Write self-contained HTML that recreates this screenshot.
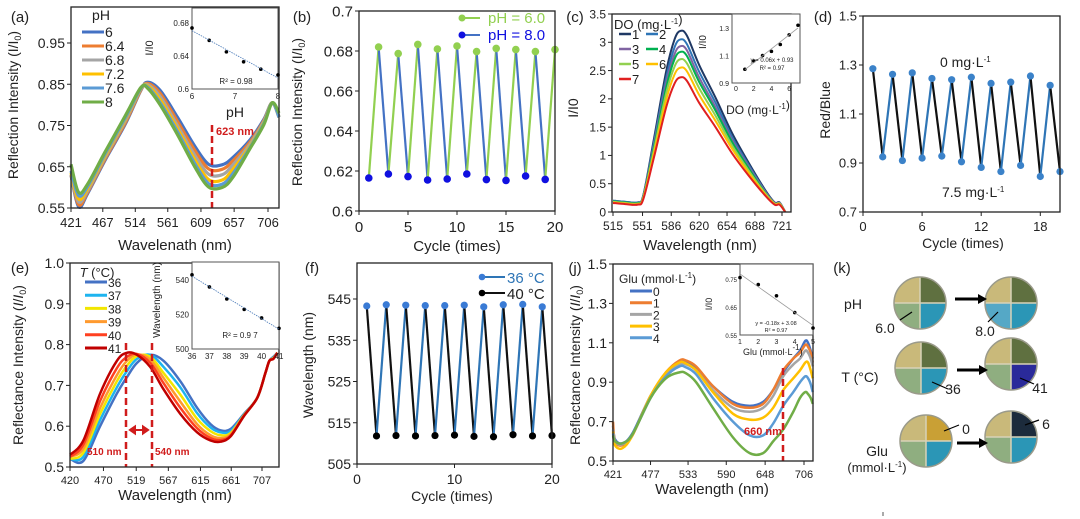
<!DOCTYPE html>
<html><head><meta charset="utf-8"><style>
html,body{margin:0;padding:0;background:#fff;}
svg{display:block;font-family:"Liberation Sans",Arial,sans-serif;}
</style></head><body>
<svg id="fig" width="1080" height="519" viewBox="0 0 1080 519" xmlns="http://www.w3.org/2000/svg">
<rect width="1080" height="519" fill="#fff"/>
</svg>
<script>
// ---------- data ----------
const aWl=[421,432,445,470,500,522,532,550,575,600,620,640,655,680,700,712,722];
const aLabels=['6','6.4','6.8','7.2','7.6','8'];
const aPH6=[0.63,0.553,0.585,0.665,0.755,0.835,0.855,0.835,0.77,0.70,0.656,0.655,0.672,0.715,0.765,0.805,0.77];
const aPH64=[0.63,0.558,0.588,0.668,0.758,0.836,0.852,0.828,0.76,0.69,0.645,0.644,0.664,0.71,0.762,0.805,0.77];
const aPH68=[0.63,0.565,0.592,0.672,0.763,0.838,0.849,0.82,0.75,0.678,0.632,0.631,0.654,0.705,0.76,0.805,0.77];
const aPH72=[0.635,0.572,0.597,0.676,0.767,0.839,0.846,0.812,0.742,0.667,0.619,0.618,0.643,0.70,0.757,0.805,0.77];
const aPH76=[0.64,0.58,0.602,0.68,0.77,0.84,0.843,0.805,0.735,0.658,0.609,0.608,0.633,0.697,0.755,0.805,0.77];
const aPH8=[0.656,0.588,0.608,0.685,0.775,0.842,0.84,0.80,0.728,0.65,0.601,0.60,0.624,0.694,0.752,0.805,0.78];
const aInsetX=[6,6.4,6.8,7.2,7.6,8];
const aInsetY=[0.674,0.659,0.645,0.633,0.624,0.617];

const bCycles=[1,2,3,4,5,6,7,8,9,10,11,12,13,14,15,16,17,18,19,20];
const bValues=[0.6165,0.682,0.6185,0.6787,0.6172,0.6833,0.6155,0.681,0.616,0.6825,0.6185,0.6797,0.6157,0.6813,0.6153,0.6807,0.6175,0.6797,0.6158,0.6807];

const cWl=[515,530,545,552,565,580,590,597,605,620,640,660,680,700,712,718,725];
const cLabels=['1','2','3','4','5','6','7'];
const cDO1=[0.2,0.18,0.17,0.3,1.3,2.5,3.05,3.2,3.12,2.6,2.02,1.4,0.88,0.4,0.17,0.17,0];
const cDO2=[0.2,0.18,0.17,0.29,1.24,2.38,2.91,3.05,2.97,2.48,1.93,1.33,0.84,0.38,0.16,0.16,0];
const cDO3=[0.19,0.17,0.16,0.28,1.19,2.29,2.79,2.93,2.86,2.38,1.85,1.28,0.81,0.37,0.16,0.16,0];
const cDO4=[0.19,0.17,0.16,0.27,1.15,2.21,2.70,2.83,2.76,2.30,1.79,1.24,0.78,0.35,0.15,0.15,0];
const cDO5=[0.18,0.16,0.15,0.26,1.10,2.11,2.57,2.7,2.63,2.19,1.70,1.18,0.74,0.34,0.15,0.15,0];
const cDO6=[0.17,0.15,0.14,0.25,1.04,1.99,2.43,2.55,2.49,2.07,1.61,1.12,0.70,0.32,0.14,0.14,0];
const cDO7=[0.16,0.14,0.13,0.23,0.97,1.86,2.27,2.38,2.32,1.93,1.50,1.04,0.65,0.30,0.13,0.13,0];
const cInsetX=[1,2,3,4,5,6,7];
const cInsetY=[1.0,1.06,1.1,1.13,1.18,1.25,1.32];

const dCycles=[1,2,3,4,5,6,7,8,9,10,11,12,13,14,15,16,17,18,19,20];
const dValues=[1.285,0.925,1.262,0.91,1.268,0.92,1.245,0.928,1.24,0.905,1.25,0.882,1.225,0.865,1.23,0.89,1.255,0.845,1.217,0.865];

const eWl=[420,440,465,490,505,520,540,560,585,610,630,645,660,680,700,712,718,724,730];
const eLabels=['36','37','38','39','40','41'];
const eT36=[0.52,0.515,0.6,0.68,0.72,0.755,0.775,0.76,0.71,0.645,0.605,0.59,0.593,0.63,0.67,0.73,0.76,0.77,0.78];
const eT37=[0.52,0.525,0.615,0.695,0.735,0.765,0.775,0.745,0.695,0.632,0.597,0.585,0.588,0.628,0.67,0.73,0.76,0.768,0.78];
const eT38=[0.52,0.535,0.63,0.71,0.748,0.772,0.77,0.73,0.677,0.618,0.588,0.578,0.583,0.627,0.67,0.73,0.76,0.767,0.78];
const eT39=[0.525,0.545,0.645,0.725,0.76,0.776,0.763,0.718,0.66,0.605,0.578,0.571,0.58,0.626,0.67,0.73,0.76,0.766,0.78];
const eT40=[0.525,0.555,0.662,0.742,0.77,0.777,0.755,0.705,0.645,0.595,0.571,0.566,0.577,0.625,0.67,0.73,0.76,0.765,0.78];
const eT41=[0.53,0.565,0.68,0.76,0.78,0.775,0.745,0.69,0.63,0.585,0.565,0.562,0.575,0.625,0.67,0.73,0.76,0.765,0.78];
const eInsetX=[36,37,38,39,40,41];
const eInsetY=[543,536,529,523,518,512];

const fCycles=[1,2,3,4,5,6,7,8,9,10,11,12,13,14,15,16,17,18,19,20];
const fValues=[543.3,511.8,543.6,511.9,543.5,511.8,543.4,511.9,543.4,512,543.5,511.7,543.1,511.6,543.6,512.1,543.7,511.8,543.1,511.9];

const jWl=[421,424,435,450,477,500,520,530,545,570,600,625,645,660,675,690,700,708,712,716,719];
const jLabels=['0','1','2','3','4','5'];
const jG0=[0.68,0.61,0.59,0.64,0.83,0.94,1.0,1.0,0.97,0.88,0.8,0.78,0.8,0.86,0.95,1.02,1.06,1.11,1.1,1.06,1.02];
const jG1=[0.7,0.6,0.58,0.63,0.83,0.95,1.01,1.01,0.98,0.88,0.79,0.77,0.79,0.86,0.96,1.02,1.05,1.09,1.08,1.05,1.0];
const jG2=[0.66,0.6,0.585,0.635,0.82,0.94,0.99,0.99,0.96,0.86,0.77,0.75,0.77,0.83,0.93,0.99,1.02,1.06,1.05,1.02,0.98];
const jG3=[0.65,0.58,0.565,0.63,0.83,0.95,1.0,0.995,0.96,0.85,0.74,0.71,0.72,0.77,0.86,0.92,0.96,1.0,1.0,0.96,0.92];
const jG4=[0.64,0.6,0.59,0.635,0.82,0.93,0.98,0.975,0.94,0.82,0.7,0.63,0.63,0.69,0.78,0.85,0.9,0.93,0.92,0.89,0.85];
const jG5=[0.63,0.6,0.59,0.635,0.82,0.92,0.95,0.945,0.9,0.77,0.62,0.54,0.54,0.6,0.66,0.75,0.82,0.85,0.84,0.82,0.79];
const jInsetX=[1,2,3,4,5];
const jInsetY=[0.755,0.73,0.69,0.63,0.575];

// ---------- helpers ----------
const NS='http://www.w3.org/2000/svg';
const svg=document.getElementById('fig');
function mk(tag,attrs,name,parent){
  const e=document.createElementNS(NS,tag);
  for(const k in attrs)e.setAttribute(k,attrs[k]);
  
  
  (parent||svg).appendChild(e);return e;
}
function txt(x,y,s,name,o){
  const t=mk('text',Object.assign({x:x,y:y,'font-size':13,'text-anchor':'middle',fill:'#222'},o||{}),name);
  t.innerHTML=s;return t;
}
function vtxt(x,y,s,name,o){
  return txt(x,y,s,name,Object.assign({transform:`rotate(-90 ${x} ${y})`},o||{}));
}
function lin(d0,d1,r0,r1){return v=>r0+(v-d0)/(d1-d0)*(r1-r0);}
function smooth(p){
  let d=`M${p[0][0]},${p[0][1]}`;
  for(let i=0;i<p.length-1;i++){
    const p0=p[i-1]||p[i],p1=p[i],p2=p[i+1],p3=p[i+2]||p2;
    const c1=[p1[0]+(p2[0]-p0[0])/6,p1[1]+(p2[1]-p0[1])/6];
    const c2=[p2[0]-(p3[0]-p1[0])/6,p2[1]-(p3[1]-p1[1])/6];
    d+=`C${c1[0]},${c1[1]} ${c2[0]},${c2[1]} ${p2[0]},${p2[1]}`;
  }
  return d;
}
function frame(x0,y0,x1,y1,name,w){
  mk('rect',{x:x0,y:y0,width:x1-x0,height:y1-y0,fill:'none',stroke:'#222','stroke-width':w||1.3},name);
}
function yAxis(ticks,sy,x0,fs,dec,name){
  ticks.forEach(v=>{
    mk('line',{x1:x0-4,x2:x0,y1:sy(v),y2:sy(v),stroke:'#222'},name+'-tick');
    txt(x0-6,sy(v)+fs*0.36,dec===null?String(v):v.toFixed(dec),name+'-label',{'font-size':fs,'text-anchor':'end'});
  });
}
function xAxis(ticks,sx,y0,fs,name){
  ticks.forEach(v=>{
    mk('line',{x1:sx(v),x2:sx(v),y1:y0,y2:y0+4,stroke:'#222'},name+'-tick');
    txt(sx(v),y0+fs+6,String(v),name+'-label',{'font-size':fs});
  });
}
function spectra(xs,series,colors,sx,sy,w,name){
  series.forEach((s,k)=>{
    const pts=xs.map((x,i)=>[sx(x),sy(s[i])]);
    mk('path',{d:smooth(pts),fill:'none',stroke:colors[k],'stroke-width':w,'stroke-linejoin':'round'},name+'-'+k);
  });
}
function legend(labels,colors,x,y0,dy,name,fs){
  labels.forEach((l,k)=>{
    mk('line',{x1:x,x2:x+22,y1:y0+k*dy,y2:y0+k*dy,stroke:colors[k],'stroke-width':3},name+'-swatch');
    txt(x+23,y0+k*dy+5,l,name+'-label',{'font-size':fs||14,'text-anchor':'start'});
  });
}
function cycles(xs,vals,sx,sy,riseCol,fallCol,dotCol,r,name){
  for(let i=0;i<xs.length-1;i++){
    const rise=vals[i+1]>vals[i];
    mk('line',{x1:sx(xs[i]),y1:sy(vals[i]),x2:sx(xs[i+1]),y2:sy(vals[i+1]),stroke:rise?riseCol:fallCol,'stroke-width':2.2},name+'-segment');
  }
  xs.forEach((c,i)=>{
    mk('circle',{cx:sx(c),cy:sy(vals[i]),r:r,fill:dotCol(i,vals[i])},name+'-point');
  });
}
function inset(xs,ys,sx,sy,name,dash){
  xs.forEach((x,i)=>mk('circle',{cx:sx(x),cy:sy(ys[i]),r:1.8,fill:'#000'},name+'-point'));
  const n=xs.length,mx=xs.reduce((a,b)=>a+b)/n,my=ys.reduce((a,b)=>a+b)/n;
  let sxy=0,sxx=0;xs.forEach((x,i)=>{sxy+=(x-mx)*(ys[i]-my);sxx+=(x-mx)*(x-mx);});
  const b=sxy/sxx,a=my-b*mx;
  mk('line',{x1:sx(xs[0]),y1:sy(a+b*xs[0]),x2:sx(xs[n-1]),y2:sy(a+b*xs[n-1]),stroke:dash?'#4a7ab8':'#999','stroke-width':0.8,'stroke-dasharray':dash?'1.5,1':'none'},name+'-trendline');
}
const I0='(<tspan font-style="italic">I</tspan>/<tspan font-style="italic">I</tspan><tspan font-size="9" dy="3">0</tspan><tspan dy="-3">)</tspan>';
const I0p='(I/I<tspan font-size="9" dy="3">0</tspan><tspan dy="-3">)</tspan>';
const L1='mg·L<tspan font-size="8" dy="-5">-1</tspan><tspan dy="5"></tspan>';
const mmol='mmol·L<tspan font-size="8" dy="-5">-1</tspan><tspan dy="5">)</tspan>';

// ---------- (a) ----------
{
  const sx=lin(421,706,71,268), sy=lin(0.55,0.95,208,43);
  txt(20,22,'(a)','panel-label-a',{'font-size':15});
  const cols=['#4472c4','#ed7d31','#a5a5a5','#ffc000','#5b9bd5','#70ad47'];
  spectra(aWl,[aPH6,aPH64,aPH68,aPH72,aPH76,aPH8],cols,sx,sy,3.2,'ph-spectrum');
  mk('line',{x1:212,x2:212,y1:125,y2:208,stroke:'#d01c1c','stroke-width':2.5,'stroke-dasharray':'7,4'},'marker-623nm');
  txt(216,135,'623 nm','label-623nm',{'font-size':11,'font-weight':'bold',fill:'#d01c1c','text-anchor':'start'});
  frame(71,7,279,208,'plot-frame-a');
  yAxis([0.55,0.65,0.75,0.85,0.95],sy,71,14,2,'y-axis-a');
  xAxis([421,467,514,561,609,657,706],sx,208,13,'x-axis-a');
  vtxt(18,105,'Reflection Intensity '+I0p,'y-axis-title-a',{'font-size':14});
  txt(175,250,'Wavelenath (nm)','x-axis-title-a',{'font-size':15});
  txt(101,20,'pH','legend-title-a',{'font-size':14});
  legend(aLabels,cols,82,32,14,'legend-a',14);
  mk('rect',{x:192,y:8,width:86,height:81,fill:'#fff',stroke:'#555'},'inset-frame-a');
  const ix=lin(6,8,192,278), iy=lin(0.6,0.68,89,23);
  inset(aInsetX,aInsetY,ix,iy,'inset-a',true);
  [0.6,0.64,0.68].forEach(v=>txt(189,iy(v)+3,v===0.6?'0.6':v.toFixed(2),'inset-a-ylabel',{'font-size':8,'text-anchor':'end'}));
  [6,7,8].forEach(v=>txt(ix(v),99,String(v),'inset-a-xlabel',{'font-size':8}));
  txt(236,84,'R² = 0.98','inset-a-r2',{'font-size':8});
  vtxt(153,48,'I/I0','inset-a-ytitle',{'font-size':11});
  txt(235,117,'pH','inset-a-xtitle',{'font-size':14});
}
// ---------- (b) ----------
{
  const sx=lin(0,20,359,555), sy=lin(0.6,0.7,211,11);
  txt(302,22,'(b)','panel-label-b',{'font-size':15});
  cycles(bCycles,bValues,sx,sy,'#92d050','#4472c4',(i,v)=>v>0.65?'#92d050':'#1010e0',3.8,'ph-cycle');
  frame(359,11,555,211,'plot-frame-b');
  yAxis([0.6,0.62,0.64,0.66,0.68,0.7],sy,359,15,null,'y-axis-b');
  xAxis([0,5,10,15,20],sx,211,15,'x-axis-b');
  vtxt(302,112,'Reflection Intensity '+I0p,'y-axis-title-b',{'font-size':14});
  txt(457,251,'Cycle (times)','x-axis-title-b',{'font-size':15});
  mk('line',{x1:460,x2:480,y1:18,y2:18,stroke:'#92d050','stroke-width':2},'legend-b-line-6');
  mk('circle',{cx:462,cy:18,r:3.5,fill:'#92d050'},'legend-b-dot-6');
  txt(488,23,'pH = 6.0','legend-b-label-6',{'font-size':15,'text-anchor':'start',fill:'#92d050'});
  mk('line',{x1:460,x2:480,y1:35,y2:35,stroke:'#4472c4','stroke-width':2},'legend-b-line-8');
  mk('circle',{cx:462,cy:35,r:3.5,fill:'#1010e0'},'legend-b-dot-8');
  txt(488,40,'pH = 8.0','legend-b-label-8',{'font-size':15,'text-anchor':'start',fill:'#1010e0'});
}
// ---------- (c) ----------
{
  const sx=lin(515,721,613,782), sy=lin(0,3.5,212,14);
  txt(575,22,'(c)','panel-label-c',{'font-size':15});
  const cols=['#1f3864','#2e75b6','#8064a2','#00b050','#92d050','#ffc000','#e02020'];
  spectra(cWl,[cDO1,cDO2,cDO3,cDO4,cDO5,cDO6,cDO7],cols,sx,sy,2,'do-spectrum');
  frame(612,14,791,212,'plot-frame-c');
  yAxis([0,0.5,1,1.5,2,2.5,3,3.5],sy,612,12,null,'y-axis-c');
  xAxis([515,551,586,620,654,688,721],sx,212,12,'x-axis-c');
  vtxt(578,108,'I/I0','y-axis-title-c',{'font-size':14});
  txt(700,250,'Wavelength (nm)','x-axis-title-c',{'font-size':15});
  txt(614,29,'DO ('+L1+')','legend-title-c',{'font-size':13,'text-anchor':'start'});
  cLabels.forEach((l,k)=>{
    const col=k%2, row=Math.floor(k/2), x=619+col*27, y=34+row*15;
    mk('line',{x1:x,x2:x+12,y1:y,y2:y,stroke:cols[k],'stroke-width':2.5},'legend-c-swatch');
    txt(x+13,y+5,l,'legend-c-label',{'font-size':13,'text-anchor':'start'});
  });
  mk('rect',{x:732,y:14,width:68,height:69,fill:'#fff',stroke:'#555'},'inset-frame-c');
  const ix=lin(0,7,736,798), iy=lin(0.9,1.3,83,28);
  inset(cInsetX,cInsetY,ix,iy,'inset-c',false);
  [0.9,1.1,1.3].forEach(v=>txt(729,iy(v)+3,v.toFixed(1),'inset-c-ylabel',{'font-size':7,'text-anchor':'end'}));
  [0,2,4,6].forEach(v=>txt(ix(v),91,String(v),'inset-c-xlabel',{'font-size':7}));
  txt(772,62,'y = 0.06x + 0.93','inset-c-eq',{'font-size':6});
  txt(772,70,'R² = 0.97','inset-c-r2',{'font-size':6});
  vtxt(706,42,'I/I0','inset-c-ytitle',{'font-size':10});
  txt(758,114,'DO ('+L1+')','inset-c-xtitle',{'font-size':12});
}
// ---------- (d) ----------
{
  const sx=lin(0,20,863,1060), sy=lin(0.7,1.5,212,16);
  txt(823,22,'(d)','panel-label-d',{'font-size':15});
  cycles(dCycles,dValues,sx,sy,'#2e75b6','#111',()=>'#3b82c9',3.6,'do-cycle');
  frame(863,16,1060,212,'plot-frame-d');
  yAxis([0.7,0.9,1.1,1.3,1.5],sy,863,13,1,'y-axis-d');
  xAxis([0,6,12,18],sx,212,13,'x-axis-d');
  vtxt(830,110,'Red/Blue','y-axis-title-d',{'font-size':14});
  txt(963,248,'Cycle (times)','x-axis-title-d',{'font-size':14});
  txt(940,67,'0 '+L1,'label-0mg',{'font-size':14,'text-anchor':'start'});
  txt(942,197,'7.5 '+L1,'label-7.5mg',{'font-size':14,'text-anchor':'start'});
}
// ---------- (e) ----------
{
  const sx=lin(420,707,70,262), sy=lin(0.5,1.0,467,263);
  txt(20,273,'(e)','panel-label-e',{'font-size':15});
  const cols=['#4472c4','#1eb4ef','#f2e600','#ff9a2e','#ff4020','#c00000'];
  spectra(eWl,[eT36,eT37,eT38,eT39,eT40,eT41],cols,sx,sy,2.5,'temp-spectrum');
  mk('line',{x1:126,x2:126,y1:343,y2:467,stroke:'#d01c1c','stroke-width':2.5,'stroke-dasharray':'7,4'},'marker-510nm');
  mk('line',{x1:152,x2:152,y1:343,y2:467,stroke:'#d01c1c','stroke-width':2.5,'stroke-dasharray':'7,4'},'marker-540nm');
  mk('path',{d:'M130,430 L148,430 M130,430 l5,-3.5 v7 z M148,430 l-5,-3.5 v7 z',stroke:'#d01c1c','stroke-width':2,fill:'#d01c1c'},'shift-arrow');
  txt(87,455,'510 nm','label-510nm',{'font-size':10,'font-weight':'bold',fill:'#d01c1c','text-anchor':'start'});
  txt(155,455,'540 nm','label-540nm',{'font-size':10,'font-weight':'bold',fill:'#d01c1c','text-anchor':'start'});
  frame(70,263,279,467,'plot-frame-e');
  yAxis([0.5,0.6,0.7,0.8,0.9,1.0],sy,70,14,1,'y-axis-e');
  xAxis([420,470,519,567,615,661,707],sx,467,11,'x-axis-e');
  vtxt(23,365,'Reflectance Intensity '+I0,'y-axis-title-e',{'font-size':14});
  txt(175,500,'Wavelength (nm)','x-axis-title-e',{'font-size':15});
  txt(97,277,'<tspan font-style="italic">T</tspan> (°C)','legend-title-e',{'font-size':13});
  legend(eLabels,cols,85,282,13.2,'legend-e',12);
  mk('rect',{x:192,y:262,width:87,height:87,fill:'#fff',stroke:'#555'},'inset-frame-e');
  const ix=lin(36,41,192,279), iy=lin(500,540,349,280);
  inset(eInsetX,eInsetY,ix,iy,'inset-e',true);
  [500,520,540].forEach(v=>txt(189,iy(v)+3,String(v),'inset-e-ylabel',{'font-size':8,'text-anchor':'end'}));
  eInsetX.forEach(v=>txt(ix(v),359,String(v),'inset-e-xlabel',{'font-size':8}));
  txt(240,338,'R² = 0.9 7','inset-e-r2',{'font-size':8});
  vtxt(160,300,'Wavelength (nm)','inset-e-ytitle',{'font-size':10});
}
// ---------- (f) ----------
{
  const sx=lin(0,20,357,552), sy=lin(505,545,464,299);
  txt(312,273,'(f)','panel-label-f',{'font-size':15});
  cycles(fCycles,fValues,sx,sy,'#2e75b6','#111',(i,v)=>v>525?'#3a7bd5':'#000',3.6,'temp-cycle');
  frame(357,263,552,464,'plot-frame-f');
  yAxis([505,515,525,535,545],sy,357,14,null,'y-axis-f');
  xAxis([0,10,20],sx,464,14,'x-axis-f');
  vtxt(313,365,'Wavelength (nm)','y-axis-title-f',{'font-size':14});
  txt(452,501,'Cycle (times)','x-axis-title-f',{'font-size':14});
  mk('line',{x1:481,x2:505,y1:277,y2:277,stroke:'#2e75b6','stroke-width':2},'legend-f-line-36');
  mk('circle',{cx:482,cy:277,r:3.3,fill:'#3a7bd5'},'legend-f-dot-36');
  txt(507,283,'36 °C','legend-f-label-36',{'font-size':15,'text-anchor':'start',fill:'#2e75b6'});
  mk('line',{x1:481,x2:505,y1:293,y2:293,stroke:'#111','stroke-width':2},'legend-f-line-40');
  mk('circle',{cx:482,cy:293,r:3.3,fill:'#000'},'legend-f-dot-40');
  txt(507,299,'40 °C','legend-f-label-40',{'font-size':15,'text-anchor':'start'});
}
// ---------- (j) ----------
{
  const sx=lin(421,706,613,804), sy=lin(0.5,1.5,461,264);
  txt(575,273,'(j)','panel-label-j',{'font-size':15});
  const cols=['#4472c4','#ed7d31','#a5a5a5','#ffc000','#5b9bd5','#70ad47'];
  spectra(jWl,[jG0,jG1,jG2,jG3,jG4,jG5],cols,sx,sy,2.5,'glu-spectrum');
  mk('line',{x1:783,x2:783,y1:368,y2:461,stroke:'#d01c1c','stroke-width':2.5,'stroke-dasharray':'7,4'},'marker-660nm');
  txt(744,435,'660 nm','label-660nm',{'font-size':11,'font-weight':'bold',fill:'#d01c1c','text-anchor':'start'});
  frame(613,264,813,461,'plot-frame-j');
  yAxis([0.5,0.7,0.9,1.1,1.3,1.5],sy,613,14,1,'y-axis-j');
  xAxis([421,477,533,590,648,706],sx,461,11,'x-axis-j');
  vtxt(580,365,'Reflectance Intensity '+I0,'y-axis-title-j',{'font-size':14});
  txt(712,494,'Wavelength (nm)','x-axis-title-j',{'font-size':15});
  txt(619,283,'Glu ('+mmol,'legend-title-j',{'font-size':12,'text-anchor':'start'});
  legend(jLabels.slice(0,5),cols,630,291,11.7,'legend-j',12);
  mk('rect',{x:740,y:264,width:73,height:71,fill:'#fff',stroke:'#555'},'inset-frame-j');
  const ix=lin(1,5,740,813), iy=lin(0.55,0.75,335,279);
  inset(jInsetX,jInsetY,ix,iy,'inset-j',false);
  [0.55,0.65,0.75].forEach(v=>txt(737,iy(v)+3,v.toFixed(2),'inset-j-ylabel',{'font-size':6,'text-anchor':'end'}));
  [1,2,3,4,5].forEach(v=>txt(ix(v),344,String(v),'inset-j-xlabel',{'font-size':7}));
  txt(776,325,'y = -0.18x + 3.08','inset-j-eq',{'font-size':5.5});
  txt(776,332,'R² = 0.97','inset-j-r2',{'font-size':5.5});
  vtxt(712,304,'I/I0','inset-j-ytitle',{'font-size':9});
  txt(743,355,'Glu ('+mmol,'inset-j-xtitle',{'font-size':9,'text-anchor':'start'});
}
// ---------- (k) ----------
{
  txt(842,273,'(k)','panel-label-k',{'font-size':15});
  const defs=mk('defs',{},'defs');
  function disc(cx,cy,r,q,name){
    const id='clip'+Math.round(cx)+Math.round(cy);
    const cp=mk('clipPath',{id:id},name+'-clip',defs);
    mk('circle',{cx:cx,cy:cy,r:r},name+'-clip-circle',cp);
    const g=mk('g',{'clip-path':`url(#${id})`},name);
    mk('rect',{x:cx-r,y:cy-r,width:r,height:r,fill:q[0]},name+'-q1',g);
    mk('rect',{x:cx,y:cy-r,width:r,height:r,fill:q[1]},name+'-q2',g);
    mk('rect',{x:cx-r,y:cy,width:r,height:r,fill:q[2]},name+'-q3',g);
    mk('rect',{x:cx,y:cy,width:r,height:r,fill:q[3]},name+'-q4',g);
    mk('path',{d:`M${cx-r},${cy}H${cx+r}M${cx},${cy-r}V${cy+r}`,stroke:'#d8d2b8','stroke-width':1.5},name+'-divider',g);
    mk('circle',{cx:cx,cy:cy,r:r,fill:'none',stroke:'#9a9a8a','stroke-width':1.5},name+'-rim');
  }
  function arrow(x1,x2,y,name){
    mk('path',{d:`M${x1},${y}H${x2-6}`,stroke:'#000','stroke-width':3},name+'-shaft');
    mk('path',{d:`M${x2},${y} l-9,-5 v10 z`,fill:'#000'},name+'-head');
  }
  function ptr(x1,y1,x2,y2,name){mk('line',{x1:x1,y1:y1,x2:x2,y2:y2,stroke:'#000','stroke-width':1.2},name);}
  const TL='#c9b97a',TR='#5f7040',BL='#8fae80',BR='#2b96b6';
  disc(920,303,26,[TL,TR,BL,BR],'strip-ph-6');
  disc(1011,303,26,[TL,TR,'#55a8c6',BR],'strip-ph-8');
  arrow(955,987,299,'arrow-ph');
  txt(853,309,'pH','label-ph',{'font-size':14});
  txt(885,333,'6.0','label-ph-6',{'font-size':14});ptr(900,320,912,312,'pointer-ph-6');
  txt(985,336,'8.0','label-ph-8',{'font-size':14});ptr(988,322,998,312,'pointer-ph-8');
  disc(921,368,26,[TL,TR,BL,BR],'strip-t-36');
  disc(1011,364,26,[TL,TR,BL,'#2a2a9a'],'strip-t-41');
  arrow(957,988,370,'arrow-t');
  txt(860,382,'T (°C)','label-t',{'font-size':14});
  txt(953,394,'36','label-t-36',{'font-size':14});ptr(932,382,948,389,'pointer-t-36');
  txt(1040,393,'41','label-t-41',{'font-size':14});ptr(1020,378,1034,384,'pointer-t-41');
  disc(926,441,26,[TL,'#c9a035',BL,BR],'strip-glu-0');
  disc(1011,437,26,[TL,'#1c2b3c',BL,BR],'strip-glu-6');
  arrow(957,988,443,'arrow-glu');
  txt(877,456,'Glu','label-glu',{'font-size':14});
  txt(877,472,'('+mmol,'label-glu-unit',{'font-size':13});
  txt(966,434,'0','label-glu-0',{'font-size':14});ptr(944,431,959,425,'pointer-glu-0');
  txt(1046,429,'6','label-glu-6',{'font-size':14});ptr(1025,425,1039,420,'pointer-glu-6');
  mk('line',{x1:883,x2:883,y1:512,y2:516,stroke:'#555'},'stray-tick');
}
</script>
</body></html>
